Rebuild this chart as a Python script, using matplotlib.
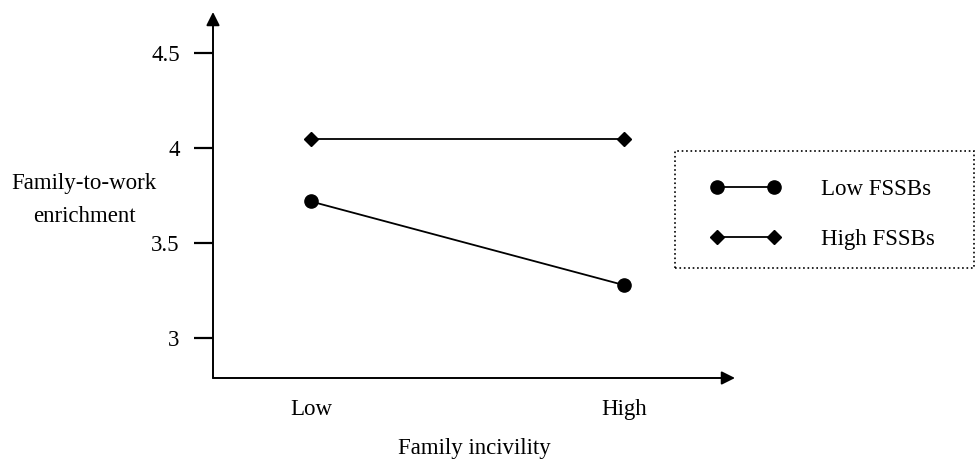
import matplotlib.pyplot as plt
from matplotlib.patches import Rectangle

plt.rcParams['font.family'] = ['Liberation Serif', 'DejaVu Serif']

# data
levels = ['Low', 'High']
low_fssbs = [3.72, 3.28]
high_fssbs = [4.05, 4.05]
yticks = [3, 3.5, 4, 4.5]

W, H = 976, 461
FS = 16.5
fig = plt.figure(figsize=(W / 100, H / 100), dpi=100)
ax = fig.add_axes([213 / W, 1 - 378 / H, (735 - 213) / W, (378 - 12) / H])

x = [0, 1]
ax.plot(x, low_fssbs, color='black', lw=1.3, marker='o', ms=9.5, label='Low FSSBs')
ax.plot(x, high_fssbs, color='black', lw=1.3, marker='D', ms=7, label='High FSSBs')

ax.set_xlim(-0.313, 1.355)
ax.set_ylim(2.791, 4.717)

for s in ax.spines.values():
    s.set_visible(False)

# axes with arrow heads
arrow = dict(arrowstyle='-|>', color='black', lw=1.4, mutation_scale=20, shrinkA=0, shrinkB=0)
ax.annotate('', xy=(0, 1), xytext=(0, 0), xycoords='axes fraction', arrowprops=arrow)
ax.annotate('', xy=(1, 0), xytext=(0, 0), xycoords='axes fraction', arrowprops=arrow)

ax.set_yticks(yticks)
ax.set_yticklabels(['3', '3.5', '4', '4.5'])
ax.tick_params(axis='y', direction='out', length=14, width=1.6, labelsize=FS, pad=10)
ax.set_xticks(x)
ax.set_xticklabels(levels)
ax.tick_params(axis='x', length=0, labelsize=FS, pad=15)

ax.set_xlabel('Family incivility', fontsize=FS, labelpad=13)
fig.text(84 / W, 1 - 200 / H, 'Family-to-work\nenrichment', ha='center', va='center',
         fontsize=FS, linespacing=1.75)

# legend with dotted box
fig.patches.append(Rectangle((675 / W, 1 - 268 / H), (974 - 675) / W, (268 - 151) / H,
                             transform=fig.transFigure, fill=False, ls=':', lw=1.2,
                             edgecolor='black'))
leg = fig.legend(loc='upper left', bbox_to_anchor=(689 / W, 1 - 158 / H), frameon=False,
                 numpoints=2, handlelength=3.1, handletextpad=1.77, labelspacing=1.3,
                 fontsize=FS)

fig.savefig('out.png', dpi=100)
